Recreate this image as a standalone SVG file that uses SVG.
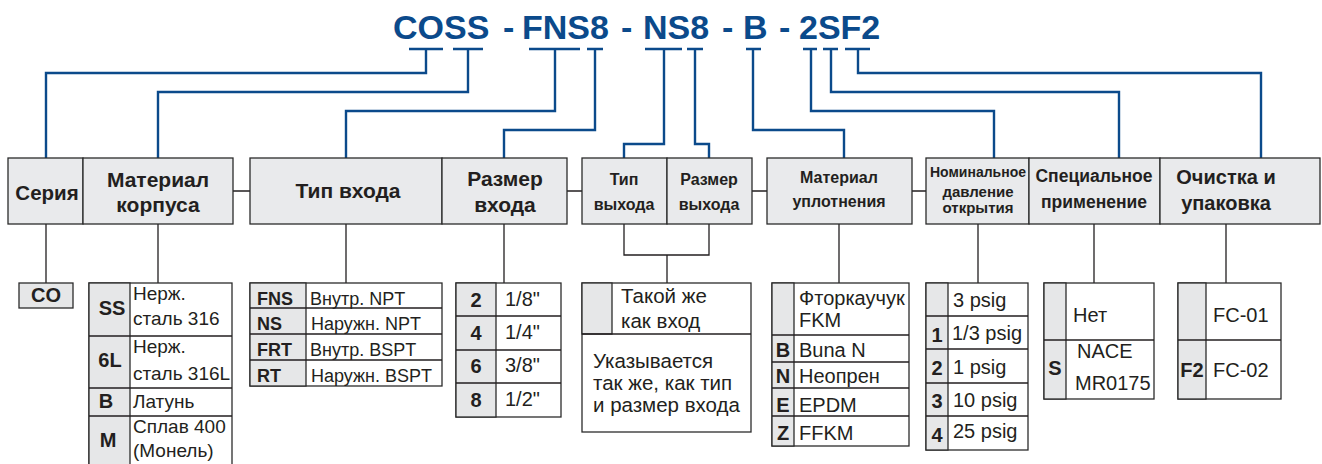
<svg xmlns="http://www.w3.org/2000/svg" width="1322" height="464" viewBox="0 0 1322 464">
<style>
text{font-family:"Liberation Sans",Arial,sans-serif;fill:#231f20}
.title{font-size:34px;font-weight:bold;fill:#0b4a8b}
.hd{fill:#e9eaec;stroke:#2b2b2b;stroke-width:1.3}
.h{font-weight:bold;text-anchor:middle}
.tb{fill:#fff;stroke:#2b2b2b;stroke-width:1.3}
.cd{fill:#e6e7e8;stroke:#2b2b2b;stroke-width:1.3}
.c{font-weight:bold;text-anchor:middle;font-size:20px}
.v{font-size:20px}
.s19{font-size:19px}
.blue{fill:none;stroke:#0b4a8b;stroke-width:2.4}
.blk{fill:none;stroke:#231f20;stroke-width:1.3}
</style>
<rect width="1322" height="464" fill="#fff"/>
<text class="title" y="39"><tspan x="393">COSS </tspan><tspan x="503">- </tspan><tspan x="522">FNS8 </tspan><tspan x="621">- </tspan><tspan x="643">NS8 </tspan><tspan x="722">- </tspan><tspan x="743">B </tspan><tspan x="779">- </tspan><tspan x="799">2SF2</tspan></text>
<g id="connectors">
<g class="blue">
<path d="M409 49H443M426 49V73H46V158"/>
<path d="M453 49H483M468 49V92H158V158"/>
<path d="M529 49H580M555 49V111H346V158"/>
<path d="M587 49H603M595 49V130H504V158"/>
<path d="M645 49H682M664 49V144H624V158"/>
<path d="M687 49H703M695 49V144H709V158"/>
<path d="M746 49H761M753 49V130H844V158"/>
<path d="M803 49H817M811 49V111H994V158"/>
<path d="M823 49H838M831 49V92H1119V158"/>
<path d="M845 49H870M858 49V73H1261V158"/>
</g>
<g class="blk">
<path d="M233 191H250M567 191H582M752 191H767M912 191H926"/>
<path d="M46 224V283M158 224V283M346 224V283M504 224V283"/>
<path d="M624 224V255H709V224M667 255V283"/>
<path d="M839 224V283M978 224V283M1094 224V283M1226 224V283"/>
</g>
</g>
<g id="serie">
<rect class="hd" x="8" y="158" width="75" height="66"/>
<text class="h" x="47" y="200" font-size="20.5">Серия</text>
<rect class="cd" x="19" y="283" width="54" height="25"/>
<text class="c" x="46" y="302" font-size="19">CO</text>
</g>
<g id="body-material">
<rect class="hd" x="83" y="158" width="150" height="66"/>
<text class="h" x="158" y="187" font-size="21">Материал</text>
<text class="h" x="158" y="212" font-size="21">корпуса</text>
<rect class="tb" x="89" y="283" width="143" height="190"/>
<rect class="cd" x="89" y="283" width="41" height="190"/>
<path class="blk" d="M89 336H232M89 388H232M89 416H232"/>
<text class="c" x="112" y="315">SS</text>
<text class="v s19" x="133" y="300">Нерж.</text>
<text class="v s19" x="133" y="325">сталь 316</text>
<text class="c" x="110" y="367">6L</text>
<text class="v s19" x="133" y="353">Нерж.</text>
<text class="v s19" x="133" y="380">сталь 316L</text>
<text class="c" x="106" y="408">B</text>
<text class="v s19" x="133" y="408">Латунь</text>
<text class="c" x="108" y="447">M</text>
<text class="v s19" x="133" y="433">Сплав 400</text>
<text class="v s19" x="133" y="457">(Монель)</text>
</g>
<g id="inlet-type">
<rect class="hd" x="250" y="158" width="192" height="66"/>
<text class="h" x="348" y="198" font-size="21">Тип входа</text>
<rect class="tb" x="250" y="283" width="192" height="103"/>
<rect class="cd" x="250" y="283" width="56" height="103"/>
<path class="blk" d="M250 308H442M250 334H442M250 360H442"/>
<g font-size="18">
<text x="257" y="305" font-weight="bold">FNS</text>
<text x="257" y="330" font-weight="bold">NS</text>
<text x="257" y="356" font-weight="bold">FRT</text>
<text x="257" y="382" font-weight="bold">RT</text>
<text x="310" y="305">Внутр. NPT</text>
<text x="311" y="330">Наружн. NPT</text>
<text x="310" y="356">Внутр. BSPT</text>
<text x="311" y="382">Наружн. BSPT</text>
</g>
</g>
<g id="inlet-size">
<rect class="hd" x="442" y="158" width="125" height="66"/>
<text class="h" x="505" y="186" font-size="21">Размер</text>
<text class="h" x="505" y="212" font-size="21">входа</text>
<rect class="tb" x="456" y="283" width="105" height="134"/>
<rect class="cd" x="456" y="283" width="40" height="134"/>
<path class="blk" d="M456 316H561M456 350H561M456 383H561"/>
<text class="c" x="476" y="307">2</text>
<text class="c" x="476" y="340">4</text>
<text class="c" x="476" y="373">6</text>
<text class="c" x="476" y="407">8</text>
<text class="v" x="505" y="306">1/8"</text>
<text class="v" x="505" y="339">1/4"</text>
<text class="v" x="505" y="372">3/8"</text>
<text class="v" x="505" y="406">1/2"</text>
</g>
<g id="outlet">
<rect class="hd" x="582" y="158" width="85" height="66"/>
<rect class="hd" x="667" y="158" width="85" height="66"/>
<text class="h" x="624" y="185" font-size="16">Тип</text>
<text class="h" x="624" y="210" font-size="16">выхода</text>
<text class="h" x="709" y="185" font-size="16">Размер</text>
<text class="h" x="709" y="210" font-size="16">выхода</text>
<rect class="tb" x="582" y="283" width="169" height="149"/>
<rect class="cd" x="582" y="283" width="30" height="51"/>
<path class="blk" d="M582 334H751"/>
<g font-size="20.5">
<text x="621" y="303">Такой же</text>
<text x="621" y="328">как вход</text>
<text x="593" y="368">Указывается</text>
<text x="593" y="390">так же, как тип</text>
<text x="593" y="412">и размер входа</text>
</g>
</g>
<g id="seal-material">
<rect class="hd" x="767" y="158" width="145" height="66"/>
<text class="h" x="839" y="183" font-size="16">Материал</text>
<text class="h" x="839" y="207" font-size="16">уплотнения</text>
<rect class="tb" x="772" y="283" width="137" height="163"/>
<rect class="cd" x="772" y="283" width="22" height="163"/>
<path class="blk" d="M772 335H909M772 362H909M772 388H909M772 416H909"/>
<text class="v" x="799" y="305">Фторкаучук</text>
<text class="v" x="799" y="327">FKM</text>
<text class="c" x="783" y="357">B</text>
<text class="v" x="799" y="357">Buna N</text>
<text class="c" x="783" y="383">N</text>
<text class="v" x="799" y="383">Неопрен</text>
<text class="c" x="783" y="412">E</text>
<text class="v" x="799" y="412">EPDM</text>
<text class="c" x="783" y="440">Z</text>
<text class="v" x="799" y="440">FFKM</text>
</g>
<g id="cracking-pressure">
<rect class="hd" x="926" y="158" width="103" height="66"/>
<text class="h" x="978" y="177" font-size="15" textLength="96" lengthAdjust="spacingAndGlyphs">Номинальное</text>
<text class="h" x="978" y="197" font-size="15">давление</text>
<text class="h" x="978" y="213" font-size="15">открытия</text>
<rect class="tb" x="926" y="283" width="102" height="167"/>
<rect class="cd" x="926" y="283" width="22" height="167"/>
<path class="blk" d="M926 316H1028M926 349H1028M926 383H1028M926 416H1028"/>
<text class="v" x="953" y="307">3 psig</text>
<text class="c" x="937" y="342">1</text>
<text class="v" x="952" y="340">1/3 psig</text>
<text class="c" x="937" y="375">2</text>
<text class="v" x="953" y="374">1 psig</text>
<text class="c" x="937" y="408">3</text>
<text class="v" x="953" y="407">10 psig</text>
<text class="c" x="937" y="442">4</text>
<text class="v" x="953" y="438">25 psig</text>
</g>
<g id="special-application">
<rect class="hd" x="1029" y="158" width="131" height="66"/>
<text class="h" x="1094" y="182" font-size="17.5">Специальное</text>
<text class="h" x="1094" y="208" font-size="17.5">применение</text>
<rect class="tb" x="1044" y="283" width="110" height="116"/>
<rect class="cd" x="1044" y="283" width="22" height="116"/>
<path class="blk" d="M1044 340H1154"/>
<text class="v" x="1073" y="322">Нет</text>
<text class="c" x="1055" y="375">S</text>
<text class="v" x="1077" y="358">NACE</text>
<text class="v" x="1075" y="390">MR0175</text>
</g>
<g id="cleaning-packaging">
<rect class="hd" x="1160" y="158" width="160" height="66"/>
<text class="h" x="1226" y="184" font-size="20">Очистка и</text>
<text class="h" x="1226" y="210" font-size="20">упаковка</text>
<rect class="tb" x="1178" y="283" width="103" height="116"/>
<rect class="cd" x="1178" y="283" width="28" height="116"/>
<path class="blk" d="M1178 340H1281"/>
<text class="v" x="1213" y="322">FC-01</text>
<text class="c" x="1192" y="377">F2</text>
<text class="v" x="1213" y="377">FC-02</text>
</g>
</svg>
